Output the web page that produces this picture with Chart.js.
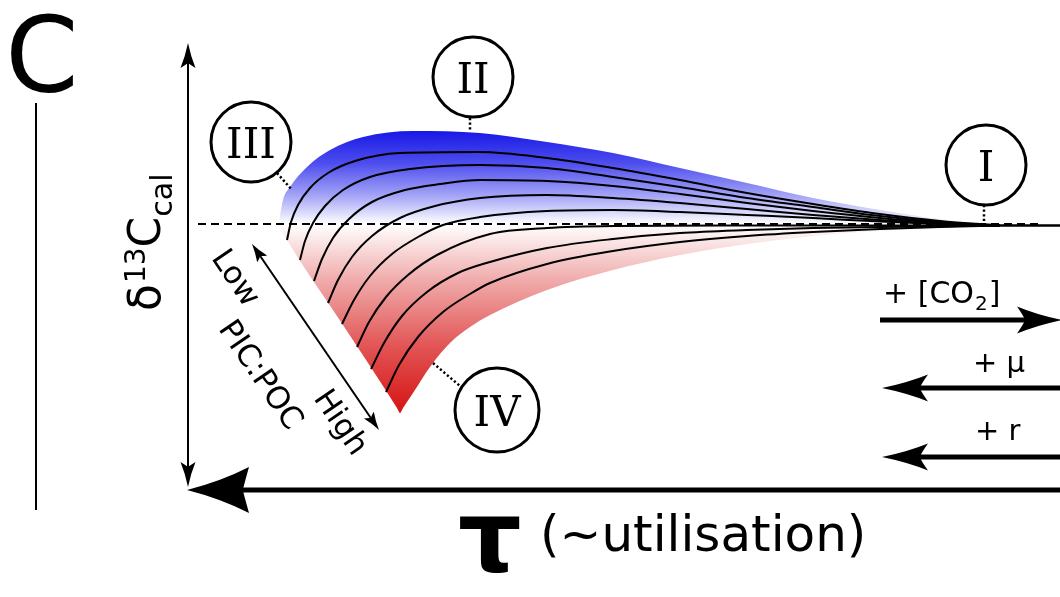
<!DOCTYPE html>
<html>
<head>
<meta charset="utf-8">
<script src="https://cdn.jsdelivr.net/npm/chart.js@4.4.1/dist/chart.umd.min.js"></script>
<style>
  html, body { margin: 0; padding: 0; background: #ffffff; }
  canvas { display: block; }
</style>
</head>
<body>
<canvas id="panel" width="1060" height="597"></canvas>
<script>
// Schematic of δ13C_cal against τ (~utilisation).
// τ grows to the left (0 at the right edge); δ is the offset from the dashed reference level.
// Points are [τ, δ].

// outer envelope of the family (upper edge, lowest PIC:POC)
const envelopeTop = [
  [78.1, 0.2], [77.7, 2.4], [77.0, 3.7], [75.3, 5.7], [73.0, 7.4], [69.7, 8.7],
  [64.7, 9.3], [58.0, 9.1], [51.3, 8.2], [44.7, 7.1], [38.0, 5.6], [31.3, 4.1],
  [24.7, 2.6], [18.0, 1.4], [12.0, 0.5], [6.0, -0.1]
];
// start line of the family, then the lower edge (highest PIC:POC)
const envelopeBottom = [
  [78.1, 0.2], [77.9, -0.5], [77.3, -1.6], [71.7, -10.1], [66.3, -18.4], [66.0, -18.9],
  [65.7, -18.4], [64.7, -16.9], [63.0, -14.3], [61.0, -11.9], [59.0, -10.3], [57.0, -9.1],
  [51.3, -6.6], [44.7, -4.6], [38.0, -3.1], [31.3, -2.0], [24.7, -1.2], [18.0, -0.7],
  [12.0, -0.4], [6.0, -0.1]
];

const curve1 = [[77.3,-1.6],[76.9,0.2],[76.2,1.9],[75.0,3.6],[73.2,5.1],[70.5,6.3],[66.0,7.1],[58.0,7.2],[51.3,6.6],[44.7,5.6],[38.0,4.4],[31.3,3.1],[24.7,2.0],[18.0,1.0],[12.0,0.3],[6.0,-0.15]];
const curve2 = [[76.0,-3.6],[75.5,-1.7],[74.7,0.1],[73.5,1.8],[71.7,3.4],[69.0,4.7],[65.0,5.5],[58.0,5.9],[51.3,5.6],[44.7,4.7],[38.0,3.7],[31.3,2.6],[24.7,1.7],[18.0,0.8],[12.0,0.2],[6.0,-0.15]];
const curve3 = [[74.6,-5.7],[73.8,-3.5],[72.7,-1.4],[71.1,0.5],[68.8,2.2],[65.5,3.4],[62.0,4.0],[58.0,4.4],[51.3,4.3],[44.7,3.8],[38.0,3.0],[31.3,2.1],[24.7,1.3],[18.0,0.6],[12.0,0.1],[6.0,-0.15]];
const curve4 = [[73.2,-7.9],[72.2,-5.6],[70.8,-3.3],[68.8,-1.2],[66.0,0.6],[62.5,1.8],[58.0,2.6],[51.3,2.9],[44.7,2.6],[38.0,2.1],[31.3,1.5],[24.7,0.9],[18.0,0.4],[12.0,0.0],[6.0,-0.15]];
const curve5 = [[71.8,-10.0],[70.6,-7.6],[69.0,-5.2],[66.8,-3.0],[64.2,-1.3],[61.7,-0.1],[58.0,0.7],[51.3,1.3],[44.7,1.4],[38.0,1.2],[31.3,0.9],[24.7,0.6],[18.0,0.25],[12.0,0.0],[6.0,-0.15]];
const curve6 = [[70.3,-12.3],[69.1,-9.8],[67.4,-7.3],[65.2,-5.1],[62.3,-3.1],[57.0,-1.0],[51.3,-0.4],[44.7,-0.2],[31.3,-0.15],[6.0,-0.15]];
const curve7 = [[68.9,-14.5],[67.6,-11.9],[65.8,-9.2],[63.3,-6.8],[60.2,-4.9],[57.0,-3.8],[51.3,-2.4],[44.7,-1.5],[38.0,-0.9],[31.3,-0.6],[24.7,-0.4],[18.0,-0.3],[6.0,-0.15]];
const curve8 = [[67.4,-16.8],[66.1,-14.1],[64.2,-11.3],[61.7,-8.8],[59.0,-7.0],[57.0,-5.9],[51.3,-4.0],[44.7,-2.7],[38.0,-1.8],[31.3,-1.2],[24.7,-0.8],[18.0,-0.5],[12.0,-0.3],[6.0,-0.15]];
const curves = [curve1, curve2, curve3, curve4, curve5, curve6, curve7, curve8];

const referenceLevel = [[86.2, 0], [2.0, 0]];
const convergedTail = [[6.0, -0.15], [0, -0.15]];

// labelled points on the family: [label, τ, δ]
const regimeMarkers = [['I', 7.4, 5.9], ['II', 58.7, 14.7], ['III', 80.9, 8.2], ['IV', 56.3, -18.6]];
const forcingLabels = ['+ [CO', '2', ']', '+ μ', '+ r'];

const toXY = pts => pts.map(p => ({ x: p[0], y: p[1] }));

function regionGradient(context) {
  const chart = context.chart;
  const { ctx, chartArea, scales } = chart;
  if (!chartArea) return 'rgba(0,0,0,0)';
  const yTop = scales.y.getPixelForValue(9.3);
  const yMid = scales.y.getPixelForValue(0);
  const yBot = scales.y.getPixelForValue(-18.9);
  const g = ctx.createLinearGradient(0, yTop, 0, yBot);
  const f = (yMid - yTop) / (yBot - yTop);
  g.addColorStop(0, 'rgb(24,24,230)');
  g.addColorStop(f * 0.35, 'rgb(78,78,238)');
  g.addColorStop(f * 0.7, 'rgb(165,165,247)');
  g.addColorStop(f, 'rgb(255,255,255)');
  g.addColorStop(f + (1 - f) * 0.3, 'rgb(240,170,170)');
  g.addColorStop(f + (1 - f) * 0.65, 'rgb(226,84,84)');
  g.addColorStop(1, 'rgb(214,20,20)');
  return g;
}

const datasets = [
  {
    data: toXY(envelopeTop), showLine: true, borderWidth: 0, pointRadius: 0,
    cubicInterpolationMode: 'monotone', fill: '+1', backgroundColor: regionGradient, order: 20
  },
  {
    data: toXY(envelopeBottom), showLine: true, borderWidth: 0, pointRadius: 0,
    cubicInterpolationMode: 'monotone', fill: false, order: 21
  },
  {
    data: toXY(referenceLevel), showLine: true, borderColor: '#000', borderWidth: 2,
    borderDash: [8, 5], pointRadius: 0, fill: false, order: 10
  },
  {
    data: toXY(convergedTail), showLine: true, borderColor: '#000', borderWidth: 2.5,
    pointRadius: 0, fill: false, order: 2
  }
].concat(curves.map(c => ({
  data: toXY(c), showLine: true, borderColor: '#000', borderWidth: 2, pointRadius: 0,
  cubicInterpolationMode: 'monotone', fill: false, order: 1
})));

function arrowHead(ctx, tx, ty, ux, uy, len, half, notch) {
  const nx = -uy, ny = ux;
  const bx = tx - ux * len, by = ty - uy * len;
  const mx = tx - ux * len * notch, my = ty - uy * len * notch;
  const cx = tx - ux * len * 0.55, cy = ty - uy * len * 0.55;
  ctx.beginPath();
  ctx.moveTo(tx, ty);
  ctx.quadraticCurveTo(cx + nx * half * 0.38, cy + ny * half * 0.38, bx + nx * half, by + ny * half);
  ctx.quadraticCurveTo(mx + nx * half * 0.35 - ux * 2, my + ny * half * 0.35 - uy * 2, mx, my);
  ctx.quadraticCurveTo(mx - nx * half * 0.35 - ux * 2, my - ny * half * 0.35 - uy * 2, bx - nx * half, by - ny * half);
  ctx.quadraticCurveTo(cx - nx * half * 0.38, cy - ny * half * 0.38, tx, ty);
  ctx.closePath();
  ctx.fill();
}

function arrow(ctx, x0, y0, x1, y1, width, len, half, notch, both) {
  const L = Math.hypot(x1 - x0, y1 - y0);
  const ux = (x1 - x0) / L, uy = (y1 - y0) / L;
  const inset = len * notch * 0.9;
  ctx.lineWidth = width;
  ctx.lineCap = 'butt';
  ctx.beginPath();
  ctx.moveTo(both ? x0 + ux * inset : x0, both ? y0 + uy * inset : y0);
  ctx.lineTo(x1 - ux * inset, y1 - uy * inset);
  ctx.stroke();
  arrowHead(ctx, x1, y1, ux, uy, len, half, notch);
  if (both) arrowHead(ctx, x0, y0, -ux, -uy, len, half, notch);
}

function centredText(ctx, text, x, y) {
  const m = ctx.measureText(text);
  ctx.fillText(text, x - m.width / 2, y + (m.actualBoundingBoxAscent - m.actualBoundingBoxDescent) / 2);
}

const diagramOverlay = {
  id: 'diagramOverlay',
  afterDatasetsDraw(chart) {
    const ctx = chart.ctx;
    const X = v => chart.scales.x.getPixelForValue(v);
    const Y = v => chart.scales.y.getPixelForValue(v);
    ctx.save();
    ctx.fillStyle = '#000';
    ctx.strokeStyle = '#000';
    ctx.textAlign = 'left';
    ctx.textBaseline = 'alphabetic';

    // panel letter and rule
    ctx.font = '105px "DejaVu Sans"';
    const cw = ctx.measureText('C').width;
    ctx.fillText('C', X(102.0) - cw / 2 + 2, Y(13.2));
    ctx.lineWidth = 2;
    ctx.beginPath(); ctx.moveTo(X(102.4), Y(12.1)); ctx.lineTo(X(102.4), Y(-28.6)); ctx.stroke();

    // δ axis (double headed)
    arrow(ctx, X(87.2), Y(-26.3), X(87.2), Y(18.1), 2, 25, 7.5, 0.8, true);
    // τ axis, pointing to larger τ
    arrow(ctx, X(0), Y(-26.6), X(87.3), Y(-26.6), 5, 62, 23, 0.9, false);

    // PIC:POC direction
    arrow(ctx, X(80.8), Y(-2.0), X(68.1), Y(-20.6), 2, 18, 6, 0.8, true);

    // forcing arrows
    arrow(ctx, X(18.0), Y(-9.6), X(-0.2), Y(-9.6), 5, 45, 13.5, 0.82, false);
    arrow(ctx, X(0), Y(-16.4), X(17.8), Y(-16.4), 5, 46, 13.5, 0.82, false);
    arrow(ctx, X(0), Y(-23.3), X(17.8), Y(-23.3), 5, 46, 13.5, 0.82, false);

    // leaders to the regime markers
    ctx.lineWidth = 2.5;
    ctx.setLineDash([2.2, 2.4]);
    const leaders = [[7.6, 1.9, 7.6, 0], [59.0, 10.6, 59.0, 9.3], [78.3, 5.1, 76.8, 3.4], [62.7, -13.9, 60.0, -16.2]];
    leaders.forEach(l => { ctx.beginPath(); ctx.moveTo(X(l[0]), Y(l[1])); ctx.lineTo(X(l[2]), Y(l[3])); ctx.stroke(); });
    ctx.setLineDash([]);

    // regime markers
    ctx.font = '42px "DejaVu Serif"';
    regimeMarkers.forEach(([t, tau, d], i) => {
      const r = i === 3 ? 42 : 40;
      ctx.fillStyle = '#fff';
      ctx.beginPath(); ctx.arc(X(tau), Y(d), r, 0, Math.PI * 2); ctx.fill();
      ctx.lineWidth = 3;
      ctx.stroke();
      ctx.fillStyle = '#000';
      centredText(ctx, t, X(tau), Y(d));
    });

    // forcing labels
    ctx.font = '30px "DejaVu Sans"';
    let x = X(17.7);
    const yCO2 = Y(-7.9);
    ctx.fillText(forcingLabels[0], x, yCO2); x += ctx.measureText(forcingLabels[0]).width;
    ctx.font = '20px "DejaVu Sans"';
    ctx.fillText(forcingLabels[1], x + 1, yCO2 + 7); x += ctx.measureText(forcingLabels[1]).width + 2;
    ctx.font = '30px "DejaVu Sans"';
    ctx.fillText(forcingLabels[2], x, yCO2);
    ctx.font = '29px "DejaVu Sans"';
    ctx.fillText(forcingLabels[3], X(8.7), Y(-14.8));
    ctx.fillText(forcingLabels[4], X(8.5), Y(-21.6));

    // PIC:POC labels along the diagonal
    const ang = Math.atan2(186, 127);
    ctx.font = '31px "DejaVu Sans"';
    [['Low', 82.3, -5.3], ['PIC:POC', 79.8, -15.0], ['High', 72.0, -19.9]].forEach(([t, tau, d]) => {
      ctx.save();
      ctx.translate(X(tau), Y(d));
      ctx.rotate(ang);
      centredText(ctx, t, 0, 0);
      ctx.restore();
    });

    // δ13C_cal axis title
    ctx.save();
    ctx.translate(X(90.0), Y(-8.7));
    ctx.rotate(-Math.PI / 2);
    let p = 0;
    ctx.font = '44px "DejaVu Sans"';
    ctx.fillText('δ', p, 0); p += ctx.measureText('δ').width + 1;
    ctx.font = '28px "DejaVu Sans"';
    ctx.fillText('13', p, -15); p += ctx.measureText('13').width;
    ctx.font = '44px "DejaVu Sans"';
    ctx.fillText('C', p, 0); p += ctx.measureText('C').width;
    ctx.font = '30px "DejaVu Sans"';
    ctx.fillText('cal', p, 12);
    ctx.restore();

    // τ axis title
    ctx.font = 'bold 100px "DejaVu Sans"';
    ctx.fillText('τ', X(60.2), Y(-34.8));
    ctx.font = '50px "DejaVu Sans"';
    ctx.fillText('(~utilisation)', X(52.0), Y(-32.7));

    ctx.restore();
  }
};

new Chart(document.getElementById('panel'), {
  type: 'scatter',
  data: { datasets },
  options: {
    responsive: false,
    animation: false,
    devicePixelRatio: 1,
    layout: { padding: 0 },
    plugins: { legend: { display: false }, tooltip: { enabled: false } },
    events: [],
    scales: {
      x: { type: 'linear', min: 0, max: 106, reverse: true, display: false },
      y: { type: 'linear', min: -37.3, max: 22.4, display: false }
    }
  },
  plugins: [diagramOverlay]
});
</script>
</body>
</html>
